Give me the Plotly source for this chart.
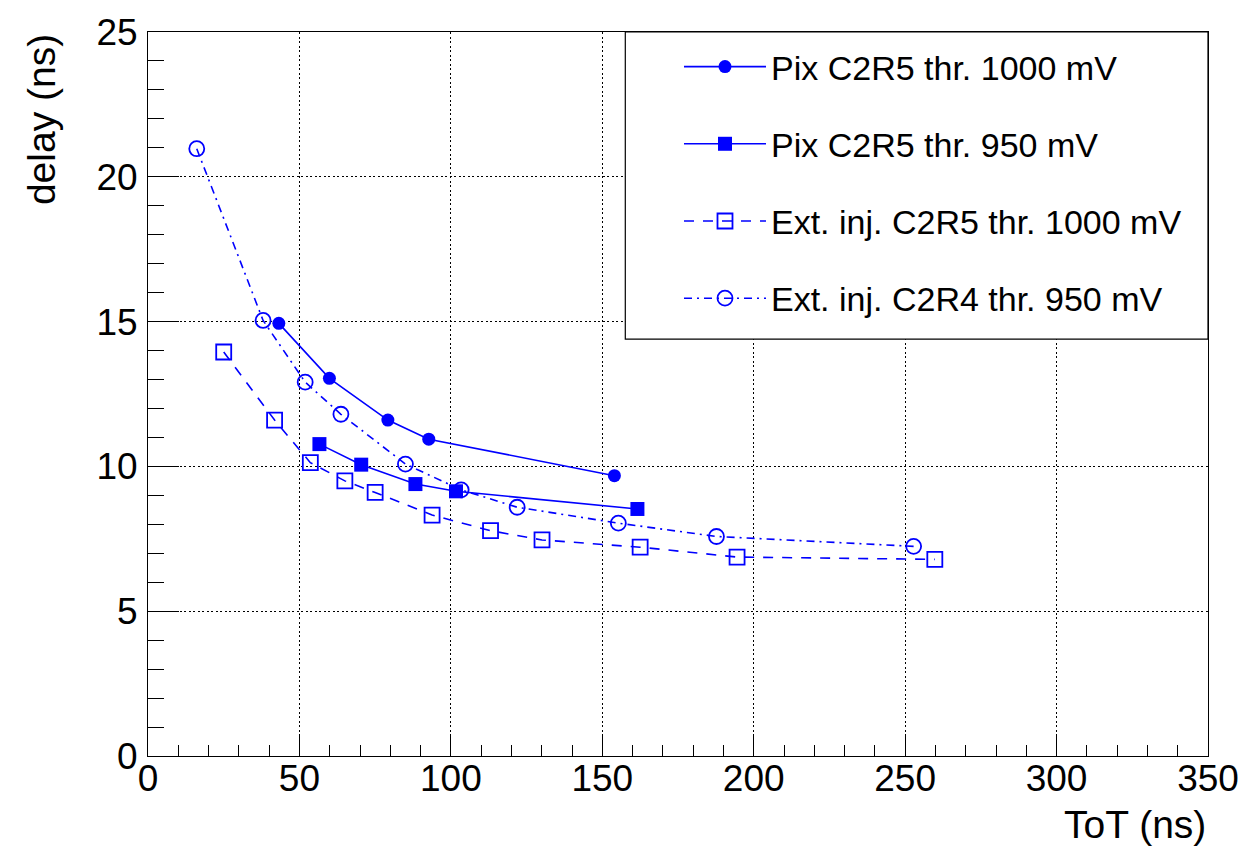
import plotly.graph_objects as go

# Time-over-threshold (ns) vs. delay (ns) for each measurement set
pix1000_tot = [43.2, 59.9, 79.2, 92.7, 154.0]
pix1000_delay = [14.94, 13.04, 11.60, 10.94, 9.68]

pix950_tot = [56.6, 70.4, 88.3, 101.7, 161.6]
pix950_delay = [10.77, 10.06, 9.39, 9.14, 8.53]

ext_c2r5_tot = [25.0, 41.8, 53.6, 65.0, 75.0, 93.8, 113.1, 130.1, 162.5, 194.5, 259.8]
ext_c2r5_delay = [13.95, 11.60, 10.13, 9.50, 9.10, 8.32, 7.78, 7.46, 7.21, 6.87, 6.79]

ext_c2r4_tot = [16.1, 38.0, 51.9, 63.7, 85.0, 103.4, 121.9, 155.3, 187.7, 252.8]
ext_c2r4_delay = [20.97, 15.04, 12.91, 11.80, 10.08, 9.19, 8.59, 8.04, 7.58, 7.24]

series_names = [
    "Pix C2R5 thr. 1000 mV",
    "Pix C2R5 thr. 950 mV",
    "Ext. inj. C2R5 thr. 1000 mV",
    "Ext. inj. C2R4 thr. 950 mV",
]

BLUE = "#0000ff"
FONT = "Liberation Sans, Arial, Helvetica, sans-serif"

W, H = 1251, 846
M_L, M_R, M_T, M_B = 148, 37, 30, 90
PW, PH = W - M_L - M_R, H - M_T - M_B


def px_x(px):
    return (px - M_L) / PW


def px_y(py):
    return (H - M_B - py) / PH


fig = go.Figure()

fig.add_trace(go.Scatter(
    x=pix1000_tot, y=pix1000_delay, name=series_names[0], legendgroup="a",
    mode="lines+markers",
    line=dict(color=BLUE, width=1.6),
    marker=dict(symbol="circle", size=13, color=BLUE),
))
fig.add_trace(go.Scatter(
    x=pix950_tot, y=pix950_delay, name=series_names[1], legendgroup="b",
    mode="lines+markers",
    line=dict(color=BLUE, width=1.6),
    marker=dict(symbol="square", size=14, color=BLUE),
))
fig.add_trace(go.Scatter(
    x=ext_c2r5_tot, y=ext_c2r5_delay, name=series_names[2], legendgroup="c",
    mode="lines+markers",
    line=dict(color=BLUE, width=1.6, dash="10px,9px"),
    marker=dict(symbol="square-open", size=15, color=BLUE, line=dict(width=1.8, color=BLUE)),
))
fig.add_trace(go.Scatter(
    x=ext_c2r4_tot, y=ext_c2r4_delay, name=series_names[3], legendgroup="d",
    mode="lines+markers",
    line=dict(color=BLUE, width=1.6, dash="8px,5px,2px,5px"),
    marker=dict(symbol="circle-open", size=15, color=BLUE, line=dict(width=1.8, color=BLUE)),
))

axis_common = dict(
    showline=True, linecolor="black", linewidth=1, mirror=True,
    ticks="inside", tickcolor="black", tickwidth=1,
    showgrid=True, gridcolor="black", gridwidth=1, griddash="2px,2.5px",
    zeroline=False,
    tickfont=dict(family=FONT, size=37, color="black"),
)

fig.update_xaxes(
    range=[0, 350], dtick=50, tick0=0, ticklen=21,
    minor=dict(dtick=10, ticklen=11, ticks="inside", tickcolor="black", showgrid=False),
    ticklabelstandoff=-10,
    **axis_common,
)
fig.update_yaxes(
    range=[0, 25], dtick=5, tick0=0, ticklen=31,
    minor=dict(dtick=1, ticklen=16, ticks="inside", tickcolor="black", showgrid=False),
    ticklabelstandoff=2,
    **axis_common,
)

# Legend frame
fig.add_shape(
    type="rect", xref="paper", yref="paper",
    x0=px_x(628), x1=1.0, y0=px_y(338), y1=1.0,
    line=dict(color="black", width=1.2), fillcolor="white", layer="above",
)

fig.add_annotation(
    text="ToT (ns)", xref="paper", yref="paper",
    x=1.0, y=px_y(825), xanchor="right", yanchor="middle",
    showarrow=False, font=dict(family=FONT, size=39, color="black"),
)
fig.add_annotation(
    text="delay (ns)", xref="paper", yref="paper", textangle=-90,
    x=px_x(41), y=1.0, xanchor="center", yanchor="top",
    showarrow=False, font=dict(family=FONT, size=39, color="black"),
)

fig.update_layout(
    width=W, height=H,
    margin=dict(l=M_L, r=M_R, t=M_T, b=M_B),
    paper_bgcolor="white", plot_bgcolor="white",
    showlegend=True,
    legend=dict(
        x=px_x(682), y=px_y(36), xanchor="left", yanchor="top",
        bgcolor="rgba(0,0,0,0)", borderwidth=0,
        font=dict(family=FONT, size=34, color="black"),
        itemwidth=82, tracegroupgap=30,
    ),
)

fig.write_html("out.html")
